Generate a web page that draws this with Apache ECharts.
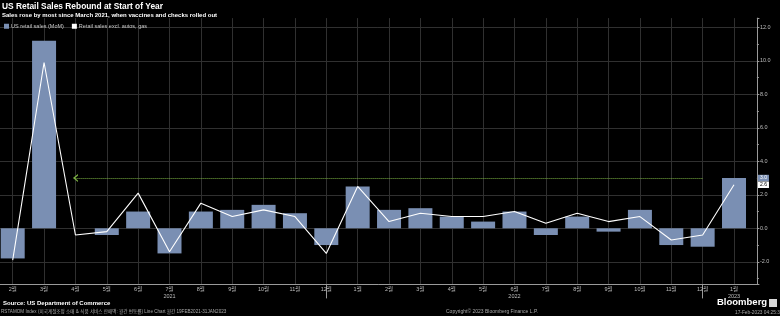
<!DOCTYPE html>
<html>
<head>
<meta charset="utf-8">
<style>
  html, body { margin: 0; padding: 0; background: #000; }
  #chart { width: 780px; height: 316px; }
</style>
<script src="https://cdn.jsdelivr.net/npm/echarts@6/dist/echarts.min.js"></script>
</head>
<body>
<div id="chart"></div>
<script>
// ---- data ----
const monthLabels = ['2월','3월','4월','5월','6월','7월','8월','9월','10월','11월','12월',
                     '1월','2월','3월','4월','5월','6월','7월','8월','9월','10월','11월','12월','1월'];
const yearLabels = { 5: '2021', 16: '2022', 23: '2023' };
const yearSeparators = [10, 22];
const retailSales = [-1.8, 11.2, 0.0, -0.4, 1.0, -1.5, 1.0, 1.1, 1.4, 0.9, -1.0,
                     2.5, 1.1, 1.2, 0.7, 0.4, 1.0, -0.4, 0.7, -0.2, 1.1, -1.0, -1.1, 3.0];
const retailExAutosGas = [-1.9, 9.9, -0.4, -0.2, 2.1, -1.4, 1.5, 0.7, 1.1, 0.7, -1.5,
                          2.5, 0.4, 0.9, 0.7, 0.7, 1.0, 0.3, 0.9, 0.4, 0.7, -0.7, -0.4, 2.6];
const refLineStart = 2;   // Apr 2021
const refLineEnd = 22;    // Dec 2022
const refLineLevel = retailSales[retailSales.length - 1];

const FONT = '"Liberation Sans", Arial, "Noto Sans CJK KR", sans-serif';
const BAR_COLOR = '#7a8fb3';
const lastIdx = retailSales.length - 1;

const barData = retailSales.map((v, i) => i === lastIdx
  ? { value: [i, v], label: { show: true } }
  : [i, v]);
const lineData = retailExAutosGas.map((v, i) => [i, v]);

const chart = echarts.init(document.getElementById('chart'), null, { renderer: 'canvas' });
chart.setOption({
  backgroundColor: '#000',
  animation: false,
  textStyle: { fontFamily: FONT },
  title: {
    text: 'US Retail Sales Rebound at Start of Year',
    subtext: 'Sales rose by most since March 2021, when vaccines and checks rolled out',
    left: 1, top: 1, itemGap: 2, padding: [1, 1],
    textStyle: { color: '#fff', fontSize: 8.4, fontWeight: 'bold', fontFamily: FONT },
    subtextStyle: { color: '#fff', fontSize: 6, fontWeight: 'bold', fontFamily: FONT }
  },
  legend: {
    left: 4, top: 23.5, padding: 0, itemWidth: 5, itemHeight: 5, itemGap: 8, icon: 'rect',
    textStyle: { color: '#c8c8c8', fontSize: 5.5, fontFamily: FONT, padding: [0, 0, 0, -3] },
    data: [
      { name: 'US retail sales (MoM)', itemStyle: { color: BAR_COLOR } },
      { name: 'Retail sales excl. autos, gas', itemStyle: { color: '#fff' } }
    ]
  },
  grid: { left: -18.66, right: 23.1, top: 18.1, bottom: 31.6, containLabel: false, outerBoundsMode: 'none' },
  xAxis: [{
    type: 'value', min: -1, max: 23.73, interval: 1, position: 'bottom',
    axisLine: { show: true, onZero: false, lineStyle: { color: '#9a9a9a', width: 1 } },
    axisTick: { show: false },
    splitLine: { show: true, showMinLine: false, showMaxLine: false, lineStyle: { color: '#303030', width: 1 } },
    axisLabel: {
      color: '#bdbdbd', fontSize: 5.5, margin: 2, lineHeight: 7, showMinLabel: false, showMaxLabel: false,
      formatter: (v) => {
        if (!Number.isInteger(v) || v < 0 || v >= monthLabels.length) return '';
        return monthLabels[v] + (yearLabels[v] ? '\n' + yearLabels[v] : '');
      }
    }
  }, {
    type: 'value', min: -1, max: 23.73, interval: 1, position: 'bottom',
    axisLine: { show: false, onZero: false },
    axisLabel: { show: false },
    splitLine: { show: false },
    axisTick: { show: true, customValues: yearSeparators, length: 14, lineStyle: { color: '#9a9a9a' } }
  }],
  yAxis: {
    type: 'value', position: 'right', min: -3.35, max: 12.55, splitNumber: 8,
    name: 'Percent', nameLocation: 'middle', nameRotate: -90, nameGap: 17,
    nameTextStyle: { color: '#bdbdbd', fontSize: 6.5, padding: [0, 0, 0, 0] },
    axisLine: { show: true, onZero: false, lineStyle: { color: '#9a9a9a', width: 1 } },
    axisTick: { show: true, length: 2.5, inside: false, lineStyle: { color: '#9a9a9a' } },
    minorTick: { show: true, splitNumber: 2, length: 2, lineStyle: { color: '#9a9a9a' } },
    splitLine: { show: true, showMinLine: false, showMaxLine: false, lineStyle: { color: '#303030', width: 1 } },
    axisLabel: {
      color: '#bdbdbd', fontSize: 5.5, margin: 3,
      formatter: (v) => Math.abs(v / 2 - Math.round(v / 2)) < 1e-6 ? v.toFixed(1) : ''
    }
  },
  series: [{
    name: 'US retail sales (MoM)',
    type: 'bar',
    xAxisIndex: 0,
    barWidth: 24,
    itemStyle: { color: BAR_COLOR },
    data: barData,
    label: {
      show: false, position: ['100%', 0], offset: [12, 0], align: 'left', verticalAlign: 'middle',
      formatter: (p) => p.value[1].toFixed(1),
      color: '#fff', backgroundColor: BAR_COLOR, fontSize: 5, padding: [1, 2, 0.5, 2]
    },
    markLine: {
      silent: true,
      symbol: ['path://M0,10 L5,0 L10,10 L8,10 L5,4 L2,10 Z', 'none'],
      symbolSize: [8, 5],
      label: { show: false },
      lineStyle: { color: '#7cb342', type: 'dotted', width: 1 },
      data: [[{ coord: [refLineStart, refLineLevel] }, { coord: [refLineEnd, refLineLevel] }]]
    },
    z: 2
  }, {
    name: 'Retail sales excl. autos, gas',
    type: 'line',
    xAxisIndex: 0,
    data: lineData,
    showSymbol: false,
    symbol: 'none',
    lineStyle: { color: '#fff', width: 1.1 },
    itemStyle: { color: '#fff' },
    endLabel: {
      show: true, distance: 24, formatter: (p) => p.value[1].toFixed(1),
      color: '#000', backgroundColor: '#fff', fontSize: 5, padding: [1, 2, 0.5, 2]
    },
    z: 3
  }],
  graphic: [
    { type: 'text', left: 3, top: 300,
      style: { text: 'Source: US Department of Commerce', fill: '#fff', font: 'bold 6px ' + FONT } },
    { type: 'text', left: 1, top: 309,
      style: { text: 'RSTAMOM Index (미국계절조정 소매 & 식품 서비스 판매액: 월간 변동률) Line Chart 월간 19FEB2021-31JAN2023', fill: '#a8a8a8', font: '4.6px ' + FONT } },
    { type: 'text', left: 446, top: 309,
      style: { text: 'Copyright© 2023 Bloomberg Finance L.P.', fill: '#a8a8a8', font: '5px ' + FONT } },
    { type: 'text', left: 717, top: 298,
      style: { text: 'Bloomberg', fill: '#fff', font: 'bold 9.5px ' + FONT } },
    { type: 'rect', left: 769, top: 299, shape: { width: 8, height: 8 }, style: { fill: '#d8d8d8' } },
    { type: 'text', left: 735, top: 310,
      style: { text: '17-Feb-2023 04:25:33', fill: '#a8a8a8', font: '4.8px ' + FONT } }
  ]
});
</script>
</body>
</html>
